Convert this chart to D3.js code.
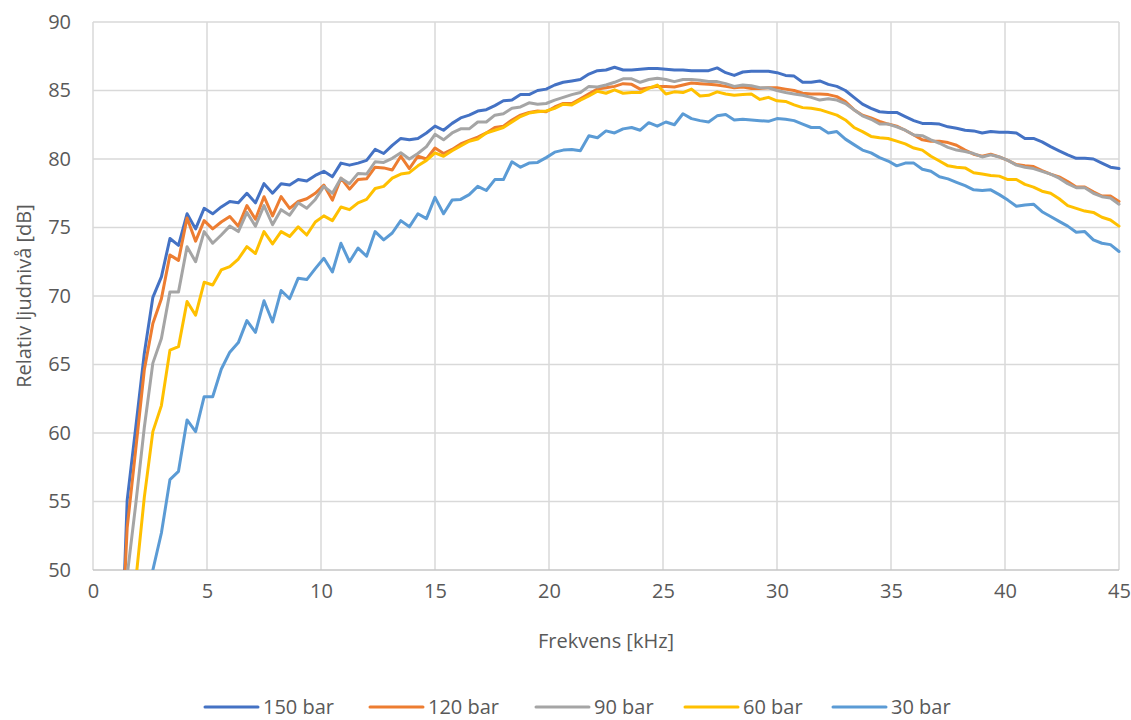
<!DOCTYPE html>
<html>
<head>
<meta charset="utf-8">
<script src="https://cdn.jsdelivr.net/npm/d3@7/dist/d3.min.js"></script>
<style>
  body { margin: 0; background: #fff; }
  svg text { font-family: 'Open Sans', 'Noto Sans', sans-serif; fill: #595959; }
</style>
</head>
<body>
<svg id="chart" width="1131" height="720"></svg>
<script>
// frekvens [kHz], steg 0.375
const freq = [
  1.125, 1.5, 1.875, 2.25, 2.625, 3, 3.375, 3.75,
  4.125, 4.5, 4.875, 5.25, 5.625, 6, 6.375, 6.75,
  7.125, 7.5, 7.875, 8.25, 8.625, 9, 9.375, 9.75,
  10.125, 10.5, 10.875, 11.25, 11.625, 12, 12.375, 12.75,
  13.125, 13.5, 13.875, 14.25, 14.625, 15, 15.375, 15.75,
  16.125, 16.5, 16.875, 17.25, 17.625, 18, 18.375, 18.75,
  19.125, 19.5, 19.875, 20.25, 20.625, 21, 21.375, 21.75,
  22.125, 22.5, 22.875, 23.25, 23.625, 24, 24.375, 24.75,
  25.125, 25.5, 25.875, 26.25, 26.625, 27, 27.375, 27.75,
  28.125, 28.5, 28.875, 29.25, 29.625, 30, 30.375, 30.75,
  31.125, 31.5, 31.875, 32.25, 32.625, 33, 33.375, 33.75,
  34.125, 34.5, 34.875, 35.25, 35.625, 36, 36.375, 36.75,
  37.125, 37.5, 37.875, 38.25, 38.625, 39, 39.375, 39.75,
  40.125, 40.5, 40.875, 41.25, 41.625, 42, 42.375, 42.75,
  43.125, 43.5, 43.875, 44.25, 44.625, 45
]

const bar150 = [
  38, 55.1, 60.4, 65.8, 69.9, 71.4, 74.2, 73.7,
  76.0, 74.9, 76.4, 76.0, 76.5, 76.9, 76.8, 77.5,
  76.8, 78.2, 77.5, 78.2, 78.1, 78.5, 78.4, 78.8,
  79.1, 78.7, 79.7, 79.55, 79.7, 79.9, 80.7, 80.4,
  81.0, 81.5, 81.4, 81.5, 81.9, 82.4, 82.1, 82.6,
  83.0, 83.2, 83.5, 83.6, 83.9, 84.25, 84.3, 84.7,
  84.7, 85.0, 85.1, 85.4, 85.6, 85.7, 85.8, 86.2,
  86.45, 86.5, 86.7, 86.5, 86.5, 86.55, 86.6, 86.6,
  86.55, 86.5, 86.5, 86.45, 86.45, 86.45, 86.65, 86.3,
  86.1, 86.35, 86.4, 86.4, 86.4, 86.3, 86.1, 86.05,
  85.6, 85.6, 85.7, 85.45, 85.3, 85.0, 84.5, 84.0,
  83.7, 83.45, 83.4, 83.4, 83.1, 82.8, 82.6, 82.6,
  82.55, 82.35, 82.25, 82.1, 82.05, 81.9, 82.0, 81.95,
  81.95, 81.9, 81.5, 81.5, 81.25, 80.9, 80.6, 80.3,
  80.05, 80.05, 80.0, 79.7, 79.4, 79.3
]

const bar120 = [
  40, 53.1, 58.8, 64.6, 68.0, 69.8, 73.0, 72.6,
  75.7, 74.0, 75.5, 74.9, 75.4, 75.8, 75.1, 76.6,
  75.6, 77.25, 75.85, 77.25, 76.4, 76.9, 77.1, 77.5,
  78.1, 77.0, 78.6, 77.8, 78.5, 78.55, 79.4, 79.35,
  79.2, 80.2, 79.3, 80.2, 80.0, 80.8, 80.4, 80.7,
  81.1, 81.35, 81.6, 81.9, 82.3, 82.4, 82.85, 83.2,
  83.4, 83.5, 83.45, 83.8, 84.05, 84.05, 84.4, 84.75,
  85.1, 85.2, 85.3, 85.5, 85.45, 85.1, 85.2, 85.3,
  85.3, 85.25, 85.4, 85.55, 85.5, 85.45, 85.4, 85.3,
  85.2, 85.25, 85.15, 85.15, 85.2, 85.2, 85.1, 85.0,
  84.8, 84.75, 84.75, 84.7, 84.55, 84.2, 83.6, 83.2,
  83.0, 82.75, 82.55, 82.4, 82.1, 81.75, 81.4, 81.3,
  81.3, 81.2, 81.0, 80.65, 80.35, 80.2, 80.35, 80.15,
  79.9, 79.6, 79.5, 79.45, 79.15, 78.9, 78.7, 78.35,
  77.95, 77.95, 77.6, 77.3, 77.3, 76.9
]

const bar90 = [
  41, 49.6, 54.8, 60.4, 65.1, 66.9, 70.3, 70.3,
  73.6, 72.5, 74.7, 73.85, 74.45, 75.1, 74.7, 76.1,
  75.1, 76.6, 75.2, 76.3, 75.9, 76.8, 76.4, 77.05,
  78.0, 77.5, 78.6, 78.2, 78.95, 78.9, 79.8, 79.75,
  80.05, 80.45, 80.0, 80.4, 80.9, 81.8, 81.4, 81.9,
  82.2, 82.2, 82.7, 82.7, 83.2, 83.3, 83.7, 83.8,
  84.1, 84.0, 84.05, 84.3, 84.5, 84.7, 84.85, 85.3,
  85.25, 85.4, 85.6, 85.85, 85.85, 85.6, 85.8, 85.9,
  85.8, 85.65, 85.8, 85.8, 85.75, 85.65, 85.65, 85.5,
  85.3, 85.4, 85.35, 85.2, 85.2, 85.0, 84.85, 84.75,
  84.65, 84.5, 84.3, 84.4, 84.3, 84.05, 83.6, 83.15,
  82.9, 82.55, 82.55, 82.35, 82.1, 81.75, 81.7, 81.4,
  81.15, 80.85, 80.65, 80.55, 80.4, 80.15, 80.3, 80.15,
  79.9, 79.55, 79.4, 79.3, 79.1, 78.9, 78.6, 78.2,
  77.9, 77.9, 77.5, 77.25, 77.15, 76.7
]

const bar60 = [
  32, 41, 49.2, 55.3, 60.1, 62.0, 66.05, 66.3,
  69.6, 68.6, 71.0, 70.8, 71.9, 72.15, 72.7, 73.6,
  73.1, 74.7, 73.8, 74.7, 74.35, 75.05, 74.45, 75.4,
  75.85, 75.5, 76.5, 76.3, 76.8, 77.05, 77.85, 78.0,
  78.6, 78.9, 79.0, 79.5, 79.9, 80.45, 80.2, 80.6,
  80.95, 81.3, 81.45, 81.9, 82.1, 82.3, 82.7, 83.1,
  83.35, 83.45, 83.5, 83.7, 84.0, 83.95, 84.3, 84.6,
  84.95, 84.8, 85.05, 84.8, 84.85, 84.85, 85.15, 85.4,
  84.75, 84.9, 84.85, 85.1, 84.6, 84.65, 84.9, 84.75,
  84.65, 84.7, 84.75, 84.35, 84.5, 84.25, 84.2, 83.95,
  83.75, 83.7, 83.6, 83.4, 83.2, 82.85, 82.3, 82.0,
  81.65, 81.55, 81.5, 81.3, 81.1, 80.8, 80.65, 80.2,
  79.85, 79.5, 79.4, 79.35, 79.0, 78.9, 78.8, 78.75,
  78.5, 78.5, 78.15, 77.95, 77.65, 77.5, 77.1, 76.6,
  76.4, 76.2, 76.1, 75.75, 75.55, 75.1
]

const bar30 = [
  20, 28, 36, 44, 50.0, 52.7, 56.6, 57.2,
  60.95, 60.1, 62.65, 62.65, 64.65, 65.9, 66.6, 68.2,
  67.35, 69.65, 68.1, 70.4, 69.8, 71.3, 71.2, 72.0,
  72.75, 71.75, 73.85, 72.5, 73.5, 72.9, 74.7, 74.1,
  74.6, 75.5, 75.05, 76.0, 75.65, 77.2, 76.0, 77.0,
  77.05, 77.4, 78.0, 77.7, 78.5, 78.5, 79.8, 79.4,
  79.7, 79.75, 80.1, 80.5, 80.65, 80.7, 80.6, 81.7,
  81.55, 82.05, 81.9, 82.2, 82.3, 82.1, 82.65, 82.4,
  82.7, 82.5, 83.3, 82.95, 82.8, 82.7, 83.15, 83.25,
  82.85, 82.9, 82.85, 82.8, 82.75, 82.95, 82.9, 82.8,
  82.55, 82.3, 82.3, 81.9, 82.0, 81.45, 81.05, 80.65,
  80.45, 80.1, 79.85, 79.5, 79.7, 79.7, 79.25, 79.1,
  78.7, 78.55, 78.3, 78.05, 77.75, 77.7, 77.75, 77.4,
  77.0, 76.55, 76.65, 76.7, 76.15, 75.8, 75.45, 75.1,
  74.65, 74.7, 74.1, 73.85, 73.75, 73.25
]

const seriesNames = ['150 bar', '120 bar', '90 bar', '60 bar', '30 bar']
const seriesColors = ['#4472c4', '#ed7d31', '#a5a5a5', '#ffc000', '#5b9bd5']
const xTicks = [0, 5, 10, 15, 20, 25, 30, 35, 40, 45]
const yTicks = [50, 55, 60, 65, 70, 75, 80, 85, 90]

const series = [bar150, bar120, bar90, bar60, bar30].map((vals, i) => ({
  name: seriesNames[i],
  color: seriesColors[i],
  points: vals.map((v, j) => ({ f: freq[j], v }))
}))

const svg = d3.select('#chart')
const plot = { left: 93, right: 1119, top: 22, bottom: 570 }

const x = d3.scaleLinear().domain([0, 45]).range([plot.left, plot.right])
const y = d3.scaleLinear().domain([50, 90]).range([plot.bottom, plot.top])

// grid
svg.append('g')
  .attr('class', 'ygrid')
  .selectAll('line')
  .data(yTicks.slice(1))
  .enter()
  .append('line')
  .attr('x1', plot.left)
  .attr('x2', plot.right)
  .attr('y1', d => y(d))
  .attr('y2', d => y(d))
  .attr('stroke', '#d9d9d9')
  .attr('stroke-width', 1.5)

svg.append('g')
  .attr('class', 'xgrid')
  .selectAll('line')
  .data(xTicks)
  .enter()
  .append('line')
  .attr('x1', d => x(d))
  .attr('x2', d => x(d))
  .attr('y1', plot.top)
  .attr('y2', plot.bottom)
  .attr('stroke', '#d9d9d9')
  .attr('stroke-width', 1.5)

svg.append('line')
  .attr('x1', plot.left)
  .attr('x2', plot.right)
  .attr('y1', plot.bottom)
  .attr('y2', plot.bottom)
  .attr('stroke', '#c6c6c6')
  .attr('stroke-width', 1.5)

// axes (labels only)
const xAxis = d3.axisBottom(x).tickValues(xTicks).tickSize(0).tickPadding(14)
svg.append('g')
  .attr('transform', `translate(0, ${plot.bottom})`)
  .call(xAxis)
  .call(g => g.select('.domain').remove())
  .selectAll('text')
  .style('font-size', '20px')
  .attr('fill', '#595959')

const yAxis = d3.axisLeft(y).tickValues(yTicks).tickSize(0).tickPadding(22)
svg.append('g')
  .attr('transform', `translate(${plot.left}, 0)`)
  .call(yAxis)
  .call(g => g.select('.domain').remove())
  .selectAll('text')
  .style('font-size', '20px')
  .attr('fill', '#595959')

svg.append('text')
  .attr('x', (plot.left + plot.right) / 2)
  .attr('y', 648)
  .attr('text-anchor', 'middle')
  .style('font-size', '20px')
  .text('Frekvens [kHz]')

svg.append('text')
  .attr('transform', `translate(31, ${(plot.top + plot.bottom) / 2}) rotate(-90)`)
  .attr('text-anchor', 'middle')
  .style('font-size', '20px')
  .text('Relativ ljudnivå [dB]')

// lines
svg.append('clipPath')
  .attr('id', 'plotclip')
  .append('rect')
  .attr('x', plot.left)
  .attr('y', plot.top - 2)
  .attr('width', plot.right - plot.left + 4)
  .attr('height', plot.bottom - plot.top + 2)

const line = d3.line()
  .x(d => x(d.f))
  .y(d => y(d.v))

svg.append('g')
  .attr('clip-path', 'url(#plotclip)')
  .selectAll('path')
  .data(series)
  .enter()
  .append('path')
  .attr('d', d => line(d.points))
  .attr('fill', 'none')
  .attr('stroke', d => d.color)
  .attr('stroke-width', 3)
  .attr('stroke-linejoin', 'round')
  .attr('stroke-linecap', 'round')

// legend
const legendX = [205, 370, 536, 685, 833]
const legend = svg.append('g').attr('class', 'legend')
series.forEach((s, i) => {
  const item = legend.append('g').attr('transform', `translate(${legendX[i]}, 707)`)
  item.append('line')
    .attr('x1', 0)
    .attr('x2', 53)
    .attr('stroke', s.color)
    .attr('stroke-width', 3)
    .attr('stroke-linecap', 'round')
  item.append('text')
    .attr('x', 58)
    .attr('dy', '0.35em')
    .style('font-size', '20px')
    .text(s.name)
})
</script>
</body>
</html>
